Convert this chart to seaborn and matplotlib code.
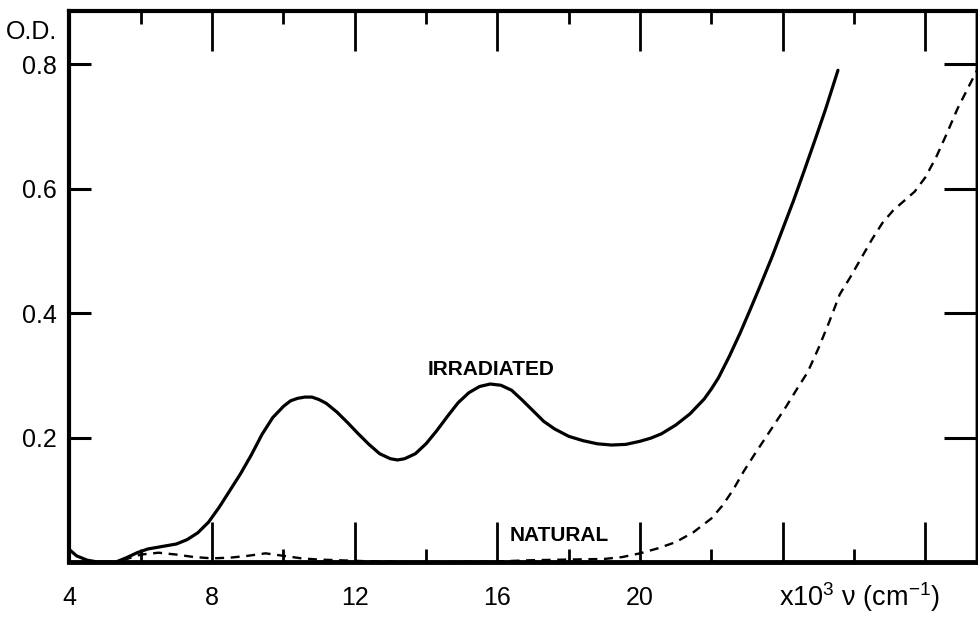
import matplotlib
matplotlib.use("Agg")
import matplotlib.pyplot as plt
from matplotlib.ticker import FixedLocator, FixedFormatter
import seaborn as sns
import pandas as pd

# Optical density spectra, wavenumber in units of 10^3 cm^-1
irradiated_nu = [4.0, 4.2, 4.5, 4.8, 5.3, 5.6, 5.9, 6.2, 6.6, 7.0, 7.3, 7.6, 7.9,
                 8.2, 8.5, 8.8, 9.1, 9.4, 9.7, 10.0, 10.2, 10.4, 10.6, 10.8, 11.0,
                 11.2, 11.5, 11.8, 12.1, 12.4, 12.7, 13.0, 13.2, 13.4, 13.7, 14.0,
                 14.3, 14.6, 14.9, 15.2, 15.5, 15.8, 16.1, 16.4, 16.7, 17.0, 17.3,
                 17.6, 18.0, 18.4, 18.8, 19.2, 19.6, 20.0, 20.3, 20.6, 21.0, 21.4,
                 21.8, 22.0, 22.2, 22.5, 22.8, 23.1, 23.4, 23.7, 24.0, 24.3, 24.6,
                 24.9, 25.2, 25.55]
irradiated_od = [0.020, 0.010, 0.003, 0.0, 0.0, 0.007, 0.015, 0.021, 0.025, 0.029,
                 0.036, 0.047, 0.064, 0.088, 0.115, 0.142, 0.172, 0.205, 0.232, 0.250,
                 0.259, 0.263, 0.265, 0.265, 0.261, 0.255, 0.241, 0.224, 0.206, 0.189,
                 0.174, 0.166, 0.164, 0.166, 0.174, 0.190, 0.211, 0.234, 0.256, 0.272,
                 0.282, 0.286, 0.284, 0.276, 0.260, 0.243, 0.226, 0.214, 0.202, 0.195,
                 0.190, 0.188, 0.189, 0.194, 0.199, 0.206, 0.220, 0.238, 0.262, 0.278,
                 0.296, 0.330, 0.367, 0.407, 0.448, 0.490, 0.535, 0.580, 0.628, 0.677,
                 0.727, 0.790]

natural_nu = [5.5, 6.0, 6.5, 7.0, 7.5, 8.0, 8.5, 9.0, 9.5, 10.0, 10.5, 11.0, 11.5,
              12.5, 14.0, 16.0, 17.0, 18.0, 19.0, 19.5, 20.0, 20.5, 21.0, 21.5, 22.0,
              22.3, 22.6, 22.9, 23.2, 23.5, 23.8, 24.1, 24.4, 24.7, 25.0, 25.3, 25.6,
              25.9, 26.2, 26.5, 26.8, 27.1, 27.4, 27.7, 28.0, 28.3, 28.6, 28.9, 29.2,
              29.45]
natural_od = [0.003, 0.012, 0.015, 0.012, 0.008, 0.006, 0.007, 0.010, 0.014, 0.010,
              0.006, 0.004, 0.003, 0.001, 0.0, 0.001, 0.003, 0.004, 0.005, 0.008,
              0.014, 0.022, 0.032, 0.048, 0.070, 0.090, 0.115, 0.145, 0.172, 0.198,
              0.224, 0.250, 0.278, 0.305, 0.343, 0.385, 0.430, 0.458, 0.488, 0.518,
              0.545, 0.565, 0.580, 0.595, 0.618, 0.650, 0.688, 0.728, 0.762, 0.790]

x_major = [4, 8, 12, 16, 20, 24, 28]
x_labels = ["4", "8", "12", "16", "20", "", ""]
x_minor = [6, 10, 14, 18, 22, 26]
y_ticks = [0.2, 0.4, 0.6, 0.8]
y_labels = ["0.2", "0.4", "0.6", "0.8"]

sns.set_style("white")
plt.rcParams["font.family"] = ["Liberation Sans", "DejaVu Sans"]
plt.rcParams["mathtext.fontset"] = "custom"
plt.rcParams["mathtext.rm"] = "Liberation Sans"
plt.rcParams["text.color"] = "black"
plt.rcParams["axes.labelcolor"] = "black"

fig = plt.figure(figsize=(9.79, 6.19), dpi=100)
ax = fig.add_axes([0.0709, 0.092, 0.998 - 0.0709, 0.982 - 0.092])

df_irr = pd.DataFrame({"nu": irradiated_nu, "od": irradiated_od})
df_nat = pd.DataFrame({"nu": natural_nu, "od": natural_od})

sns.lineplot(data=df_irr, x="nu", y="od", ax=ax, color="black", lw=2.3,
             estimator=None, solid_capstyle="round", solid_joinstyle="round")
sns.lineplot(data=df_nat, x="nu", y="od", ax=ax, color="black", lw=1.7,
             estimator=None, linestyle=(0, (3.8, 2.8)))

ax.set_xlim(4, 29.45)
ax.set_ylim(0, 0.885)

for side in ["left", "right", "top", "bottom"]:
    ax.spines[side].set_visible(True)
    ax.spines[side].set_color("black")
ax.spines["bottom"].set_linewidth(3.5)
ax.spines["left"].set_linewidth(3.0)
ax.spines["top"].set_linewidth(3.0)
ax.spines["right"].set_linewidth(2.5)

ax.xaxis.set_major_locator(FixedLocator(x_major))
ax.xaxis.set_major_formatter(FixedFormatter(x_labels))
ax.xaxis.set_minor_locator(FixedLocator(x_minor))
ax.yaxis.set_major_locator(FixedLocator(y_ticks))
ax.yaxis.set_major_formatter(FixedFormatter(y_labels))

ax.tick_params(axis="x", which="major", direction="in", length=29, width=2.0,
               top=True, bottom=True, labelsize=18, pad=17,
               colors="black", labelcolor="black")
ax.tick_params(axis="x", which="minor", direction="in", length=9.5, width=2.0,
               top=True, bottom=True, colors="black")
ax.tick_params(axis="y", which="major", direction="in", length=16, width=2.2,
               left=True, right=False, labelsize=18, pad=9,
               colors="black", labelcolor="black")

# longer ticks on the right-hand scale
sec = ax.secondary_yaxis("right")
sec.set_yticks(y_ticks)
sec.tick_params(direction="in", length=24, width=2.2, labelright=False,
                colors="black")
sec.spines["right"].set_linewidth(2.5)
sec.spines["right"].set_color("black")

ax.set_xlabel("x10$^3$ ν (cm$^{-1}$)", fontsize=19.5, ha="center", va="center",
              color="black")
ax.xaxis.set_label_coords(0.871, -0.0635)
ax.set_ylabel("O.D.", fontsize=18, rotation=0, ha="right", va="center",
              color="black")
ax.yaxis.set_label_coords(-0.013, 0.962)

ax.text(15.83, 0.309, "IRRADIATED", fontsize=15, fontweight="bold",
        ha="center", va="center", color="black")
ax.text(17.73, 0.043, "NATURAL", fontsize=15, fontweight="bold",
        ha="center", va="center", color="black")

fig.savefig("out.png", dpi=100)
